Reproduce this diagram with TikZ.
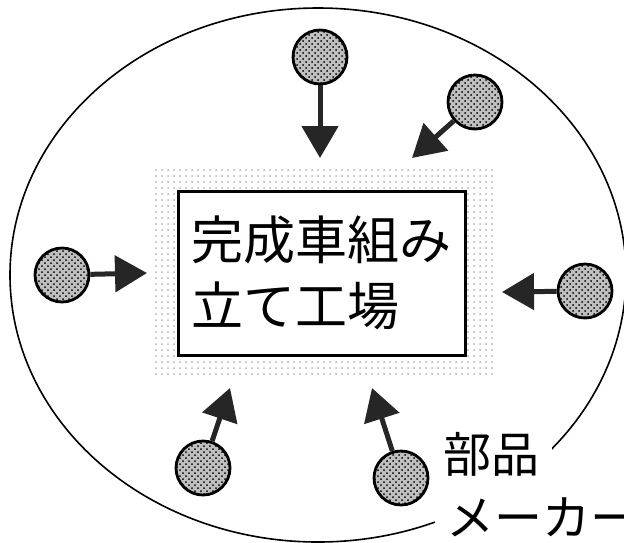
\documentclass[tikz,border=0pt]{standalone}
\usepackage{fontspec}
\setmainfont{Noto Sans CJK JP}
\usetikzlibrary{arrows.meta,patterns}

\begin{document}
\begin{tikzpicture}[x=0.5pt, y=-0.5pt, semithick,
maker/.style = {draw, circle, line width=1.4pt, minimum size=27pt, inner sep=0pt,
  preaction={fill=gray!50}, pattern=crosshatch dots},
feed/.style = {-{Triangle[length=16pt,width=18pt]}, line width=2.5pt, black!85},
tag/.style = {fill=white, inner sep=6pt, anchor=base west, font=\fontsize{24pt}{24pt}\selectfont}]
    \useasboundingbox (0,0) rectangle (624,542);

    % outer ring
    \draw[line width=0.8pt] (318,275) ellipse [x radius=154pt, y radius=133.5pt];

    % dotted yard and plant
    \node[minimum width=170pt, minimum height=104.5pt, pattern=dots, pattern color=black!30] (yard) at (325,272) {};
    \node[draw, line width=1.5pt, fill=white, minimum width=143.5pt, minimum height=82pt,
      align=left, font=\fontsize{26pt}{33pt}\selectfont] (plant) at (321.5,273) {完成車組み\\立て工場};

    % parts makers
    \node[maker] (m1) at (320,57) {};
    \node[maker] (m2) at (475,102) {};
    \node[maker] (m3) at (62,275) {};
    \node[maker] (m4) at (585,291) {};
    \node[maker] (m5) at (203,468) {};
    \node[maker] (m6) at (401,478) {};

    \coordinate (t1) at (320,158);
    \coordinate (t2) at (412,158);
    \coordinate (t3) at (147,273);
    \coordinate (t4) at (502,292);
    \coordinate (t5) at (230,388);
    \coordinate (t6) at (372,388);

    \draw[feed] (m1) -- (t1);
    \draw[feed] (m2) -- (t2);
    \draw[feed] (m3) -- (t3);
    \draw[feed] (m4) -- (t4);
    \draw[feed] (m5) -- (t5);
    \draw[feed] (m6) -- (t6);

    % label
    \node[tag] (lbl1) at (431,472) {部品};
    \node[tag] (lbl2) at (434,535) {メーカー};
\end{tikzpicture}
\end{document}
